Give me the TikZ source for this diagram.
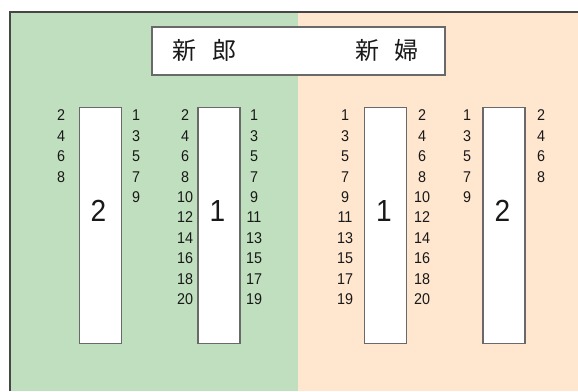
\documentclass[tikz,border=0pt]{standalone}
\usepackage{fontspec}
\setmainfont{Liberation Sans}
\newfontfamily\numfont[FakeStretch=0.92]{Liberation Sans}
\newfontfamily\cjk{Noto Sans CJK JP}
\definecolor{groomcol}{RGB}{192,223,190}
\definecolor{bridecol}{RGB}{255,230,207}
\definecolor{framecol}{RGB}{70,70,70}
\definecolor{boxcol}{RGB}{105,105,105}
\definecolor{textcol}{RGB}{25,25,25}
\begin{document}
\begin{tikzpicture}[x=1pt,y=-1pt,
  tbl/.style={draw=boxcol,line width=1.5pt,fill=white,inner sep=0pt,minimum width=42pt,minimum height=236pt},
  num/.style={font=\numfont\fontsize{15.6}{15.6}\selectfont,text=textcol,inner sep=0pt,anchor=center},
  big/.style={font=\numfont\fontsize{30.5}{30.5}\selectfont,text=textcol,inner sep=0pt,anchor=center},
  jp/.style={font=\cjk\fontsize{24}{24}\selectfont,text=textcol,inner sep=0pt,anchor=center}]
\useasboundingbox (0,0) rectangle (578,391);
% background halves
\fill[groomcol] (10,12) rectangle (298,391);
\fill[bridecol] (298,12) rectangle (578,391);
\draw[framecol,line width=1.6pt] (578,12) -- (10,12) -- (10,391);
% title box
\node[draw=boxcol,line width=1.5pt,fill=white,minimum width=293pt,minimum height=48pt,inner sep=0pt] (title) at (298.5,51) {};
\node[jp] (g1) at (184,50) {新};
\node[jp] (g2) at (224,50) {郎};
\node[jp] (b1) at (367.5,50) {新};
\node[jp] (b2) at (406.5,50) {婦};
% tables
\node[tbl] (tL2) at (100.5,225.5) {};
\node[tbl] (tL1) at (219,225.5) {};
\node[tbl] (tR1) at (385.5,225.5) {};
\node[tbl] (tR2) at (504,225.5) {};
\node[big] (nL2) at (98.5,211) {2};
\node[big] (nL1) at (217.5,211) {1};
\node[big] (nR1) at (384,211) {1};
\node[big] (nR2) at (502.5,211) {2};
% seat numbers
\foreach \r in {0,...,3} {
  \pgfmathtruncatemacro{\v}{2*\r+2}
  \node[num] (aL\r) at (61,115.5+20.4*\r) {\v};
  \node[num] (dR\r) at (541,115.5+20.4*\r) {\v};
}
\foreach \r in {0,...,4} {
  \pgfmathtruncatemacro{\v}{2*\r+1}
  \node[num] (aR\r) at (136,115.5+20.4*\r) {\v};
  \node[num] (dL\r) at (467,115.5+20.4*\r) {\v};
}
\foreach \r in {0,...,9} {
  \pgfmathtruncatemacro{\e}{2*\r+2}
  \pgfmathtruncatemacro{\o}{2*\r+1}
  \node[num] (bL\r) at (185,115.5+20.4*\r) {\e};
  \node[num] (bR\r) at (254,115.5+20.4*\r) {\o};
  \node[num] (cL\r) at (345,115.5+20.4*\r) {\o};
  \node[num] (cR\r) at (422,115.5+20.4*\r) {\e};
}
\end{tikzpicture}
\end{document}
